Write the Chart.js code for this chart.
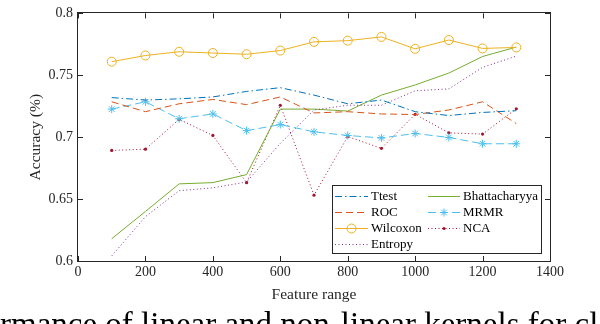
<!DOCTYPE html>
<html>
<head>
<meta charset="utf-8">
<script src="https://cdn.jsdelivr.net/npm/chart.js@4.4.0/dist/chart.umd.min.js"></script>
<style>
  html, body { margin: 0; padding: 0; background: #fff; overflow: hidden; }
  #wrap { position: relative; width: 600px; height: 324px; }
</style>
</head>
<body>
<div id="wrap"><canvas id="accChart" width="600" height="324"></canvas></div>
<script>
const featureRange = [100, 200, 300, 400, 500, 600, 700, 800, 900, 1000, 1100, 1200, 1300];

const ttest = [0.732, 0.730, 0.731, 0.7325, 0.737, 0.740, 0.734, 0.727, 0.730, 0.7206, 0.7175, 0.720, 0.7214];
const roc = [0.7286, 0.7206, 0.727, 0.7305, 0.7263, 0.7325, 0.7196, 0.7206, 0.7188, 0.7183, 0.722, 0.7286, 0.711];
const wilcoxon = [0.761, 0.766, 0.769, 0.768, 0.767, 0.770, 0.777, 0.778, 0.781, 0.7714, 0.7785, 0.7717, 0.7725];
const entropy = [0.6041, 0.6358, 0.6568, 0.6591, 0.6638, 0.695, 0.722, 0.7258, 0.7258, 0.7375, 0.739, 0.7564, 0.7655];
const bhattacharyya = [0.618, 0.640, 0.6623, 0.6633, 0.6698, 0.7227, 0.7227, 0.7211, 0.734, 0.7422, 0.7518, 0.7652, 0.7728];
const mrmr = [0.7227, 0.7286, 0.7149, 0.7188, 0.7053, 0.7102, 0.7043, 0.7014, 0.6994, 0.703, 0.6998, 0.6947, 0.6947];
const nca = [0.6893, 0.6903, 0.7144, 0.7014, 0.6633, 0.7258, 0.6532, 0.7005, 0.6910, 0.7185, 0.7035, 0.7025, 0.7230];

const xTicks = [0, 200, 400, 600, 800, 1000, 1200, 1400];
const yTicks = [0.6, 0.65, 0.7, 0.75, 0.8];

const captionText = "rmance of linear and non-linear kernels for cl";

const serif = '"Liberation Serif", "DejaVu Serif", serif';
const inkColor = "#262626";

function pairs(values) {
  return values.map((v, i) => ({ x: featureRange[i], y: v }));
}

const datasets = [
  { label: "Ttest", data: pairs(ttest), borderColor: "#0072BD", borderDash: [7, 3, 1.5, 3], pointRadius: 0 },
  { label: "ROC", data: pairs(roc), borderColor: "#D95319", borderDash: [7, 4], pointRadius: 0 },
  { label: "Wilcoxon", data: pairs(wilcoxon), borderColor: "#EDB120", pointRadius: 4.5, pointStyle: "circle",
    pointBorderColor: "#EDB120", pointBackgroundColor: "rgba(0,0,0,0)", pointBorderWidth: 1 },
  { label: "Entropy", data: pairs(entropy), borderColor: "#7E2F8E", borderDash: [1, 2.5], pointRadius: 0 },
  { label: "Bhattacharyya", data: pairs(bhattacharyya), borderColor: "#77AC30", pointRadius: 0 },
  { label: "MRMR", data: pairs(mrmr), borderColor: "#4DBEEE", borderDash: [8, 4], pointRadius: 4, pointStyle: "star",
    pointBorderColor: "#4DBEEE", pointBorderWidth: 1 },
  { label: "NCA", data: pairs(nca), borderColor: "#A2142F", borderDash: [1, 2.5], pointRadius: 1.6, pointStyle: "circle",
    pointBorderColor: "#A2142F", pointBackgroundColor: "#A2142F", pointBorderWidth: 0 }
];

datasets.forEach((d) => {
  d.borderWidth = 1;
  d.fill = false;
  d.tension = 0;
});

// draws marker like the legend sample
function drawMarker(ctx, ds, x, y) {
  if (!ds.pointRadius) return;
  ctx.save();
  ctx.setLineDash([]);
  ctx.strokeStyle = ds.pointBorderColor;
  ctx.lineWidth = 1;
  const r = ds.pointRadius;
  if (ds.pointStyle === "star") {
    ctx.beginPath();
    for (let k = 0; k < 4; k++) {
      const a = k * Math.PI / 4;
      ctx.moveTo(x - Math.cos(a) * r, y - Math.sin(a) * r);
      ctx.lineTo(x + Math.cos(a) * r, y + Math.sin(a) * r);
    }
    ctx.stroke();
  } else {
    ctx.beginPath();
    ctx.arc(x, y, r, 0, Math.PI * 2);
    if (ds.pointBackgroundColor && ds.pointBackgroundColor !== "rgba(0,0,0,0)") {
      ctx.fillStyle = ds.pointBackgroundColor;
      ctx.fill();
    } else {
      ctx.stroke();
    }
  }
  ctx.restore();
}

const framePlugin = {
  id: "framePlugin",
  afterDraw(chart) {
    const ctx = chart.ctx;
    const a = chart.chartArea;
    const xs = chart.scales.x;
    const ys = chart.scales.y;
    ctx.save();

    // axes box
    ctx.strokeStyle = inkColor;
    ctx.lineWidth = 1;
    ctx.strokeRect(Math.round(a.left) - 0.5, Math.round(a.top) - 0.5, Math.round(a.right - a.left) + 1, Math.round(a.bottom - a.top) + 1);

    // inward tick marks on all four sides
    const tl = 5;
    ctx.beginPath();
    xTicks.forEach((t) => {
      const px = Math.round(xs.getPixelForValue(t)) + 0.5;
      ctx.moveTo(px, a.bottom); ctx.lineTo(px, a.bottom - tl);
      ctx.moveTo(px, a.top); ctx.lineTo(px, a.top + tl);
    });
    yTicks.forEach((t) => {
      const py = Math.round(ys.getPixelForValue(t)) + 0.5;
      ctx.moveTo(a.left, py); ctx.lineTo(a.left + tl, py);
      ctx.moveTo(a.right, py); ctx.lineTo(a.right - tl, py);
    });
    ctx.stroke();

    // legend box, two columns
    const lx = 332, ly = 185, lw = 209, lh = 68;
    ctx.fillStyle = "#ffffff";
    ctx.fillRect(lx, ly, lw, lh);
    ctx.strokeStyle = inkColor;
    ctx.strokeRect(lx + 0.5, ly + 0.5, lw, lh);

    ctx.font = "13px " + serif;
    ctx.textBaseline = "middle";
    ctx.textAlign = "left";
    chart.data.datasets.forEach((ds, i) => {
      const col = i < 4 ? 0 : 1;
      const row = i % 4;
      const x0 = col === 0 ? 335 : 428;
      const x1 = col === 0 ? 368 : 460;
      const y = 196 + row * 16;
      ctx.save();
      ctx.strokeStyle = ds.borderColor;
      ctx.lineWidth = 1;
      ctx.setLineDash(ds.borderDash || []);
      ctx.beginPath();
      ctx.moveTo(x0, y + 0.5);
      ctx.lineTo(x1, y + 0.5);
      ctx.stroke();
      ctx.restore();
      drawMarker(ctx, ds, (x0 + x1) / 2, y + 0.5);
      ctx.fillStyle = "#000000";
      ctx.fillText(ds.label, x1 + 3, y + 1);
    });

    // caption fragment under the figure
    ctx.font = "33px " + serif;
    ctx.fillStyle = "#000000";
    ctx.textBaseline = "alphabetic";
    ctx.fillText(captionText, 0, 335);

    ctx.restore();
  }
};

const accChart = new Chart(document.getElementById("accChart"), {
  type: "line",
  data: { datasets: datasets },
  options: {
    responsive: false,
    devicePixelRatio: 1,
    animation: false,
    layout: { padding: { left: 0, top: 4, right: 50, bottom: 0 } },
    plugins: {
      legend: { display: false },
      tooltip: { enabled: false }
    },
    scales: {
      x: {
        type: "linear",
        min: 0,
        max: 1400,
        afterBuildTicks: (scale) => { scale.ticks = xTicks.map((v) => ({ value: v })); },
        afterFit: (scale) => { scale.height = 63; },
        grid: { display: false, drawTicks: false },
        border: { display: false },
        ticks: { color: inkColor, padding: 3, font: { family: serif, size: 14 }, maxRotation: 0, callback: (v) => String(v) },
        title: { display: true, text: "Feature range", color: inkColor, font: { family: serif, size: 15.5 }, padding: { top: 0, bottom: 20 } }
      },
      y: {
        type: "linear",
        min: 0.6,
        max: 0.8,
        afterBuildTicks: (scale) => { scale.ticks = yTicks.map((v) => ({ value: v })); },
        afterFit: (scale) => { scale.width = 78; },
        grid: { display: false, drawTicks: false },
        border: { display: false },
        ticks: {
          color: inkColor,
          padding: 5,
          font: { family: serif, size: 14 },
          callback: (v) => String(Number(v.toFixed(2)))
        },
        title: { display: true, text: "Accuracy (%)", color: inkColor, font: { family: serif, size: 15.5 }, padding: { top: 27, bottom: 0 } }
      }
    }
  },
  plugins: [framePlugin]
});
</script>
</body>
</html>
